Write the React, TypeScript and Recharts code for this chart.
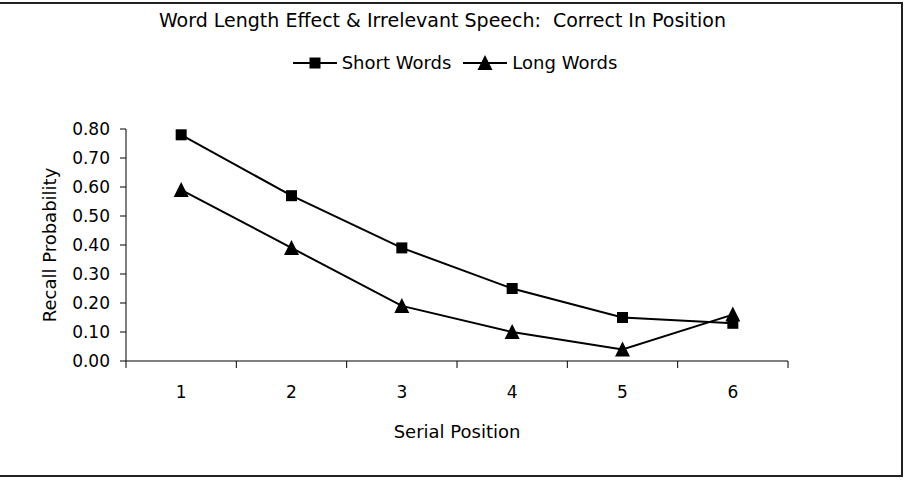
import React from 'react';
import { LineChart, Line, XAxis, YAxis } from 'recharts';

const positions = [1, 2, 3, 4, 5, 6];
const shortWords = [0.78, 0.57, 0.39, 0.25, 0.15, 0.13];
const longWords = [0.59, 0.39, 0.19, 0.1, 0.04, 0.16];
const yTicks = [0, 0.1, 0.2, 0.3, 0.4, 0.5, 0.6, 0.7, 0.8];
// tick marks sit between categories, labels at the categories
const xBounds = [0.5, 1.5, 2.5, 3.5, 4.5, 5.5, 6.5];

const data = positions.map((p, i) => ({
  pos: p,
  short: shortWords[i],
  long: longWords[i],
}));

const FONT = '"DejaVu Sans", sans-serif';

const SquareDot = (props: any) => {
  const { cx, cy } = props;
  if (cx == null || cy == null) return null;
  return <rect x={cx - 5.5} y={cy - 5.5} width={11} height={11} fill="#000" />;
};

const TriangleDot = (props: any) => {
  const { cx, cy } = props;
  if (cx == null || cy == null) return null;
  return (
    <polygon
      points={`${cx},${cy - 8} ${cx + 7.5},${cy + 7} ${cx - 7.5},${cy + 7}`}
      fill="#000"
    />
  );
};

const legendItems = [
  { name: 'Short Words', marker: 'square' },
  { name: 'Long Words', marker: 'triangle' },
];

const LegendBox = () => (
  <div
    style={{
      position: 'absolute',
      top: 52,
      left: 0,
      width: 910,
      display: 'flex',
      justifyContent: 'center',
      alignItems: 'center',
      fontFamily: FONT,
      fontSize: 18,
      color: '#000',
    }}
  >
    {legendItems.map((item) => (
      <div
        key={item.name}
        style={{ display: 'flex', alignItems: 'center', margin: '0 6px' }}
      >
        <svg width={44} height={18}>
          <line x1={0} y1={9} x2={44} y2={9} stroke="#000" strokeWidth={2} />
          {item.marker === 'square' ? (
            <SquareDot cx={22} cy={9} />
          ) : (
            <TriangleDot cx={22} cy={9} />
          )}
        </svg>
        <span style={{ marginLeft: 5 }}>{item.name}</span>
      </div>
    ))}
  </div>
);

const YLabel = (props: any) => {
  const { viewBox } = props;
  const x = viewBox.x + 49;
  const y = viewBox.y + viewBox.height / 2;
  return (
    <text
      x={x}
      y={y}
      transform={`rotate(-90, ${x}, ${y})`}
      textAnchor="middle"
      dominantBaseline="central"
      fontFamily={FONT}
      fontSize={18}
      fill="#000"
    >
      Recall Probability
    </text>
  );
};

const XLabel = (props: any) => {
  const { viewBox } = props;
  const x = viewBox.x + viewBox.width / 2;
  const y = viewBox.y + 69;
  return (
    <text
      x={x}
      y={y}
      textAnchor="middle"
      dominantBaseline="central"
      fontFamily={FONT}
      fontSize={18}
      fill="#000"
    >
      Serial Position
    </text>
  );
};

export default function App() {
  return (
    <div
      style={{
        position: 'absolute',
        left: 0,
        top: 0,
        width: 904,
        height: 486,
        background: '#fff',
        overflow: 'hidden',
      }}
    >
      <div
        style={{
          position: 'absolute',
          left: -10,
          top: 2,
          width: 913,
          height: 475,
          border: '2px solid #222',
          boxSizing: 'border-box',
        }}
      />
      <div
        style={{
          position: 'absolute',
          top: 9,
          left: 0,
          width: 885,
          textAlign: 'center',
          fontFamily: FONT,
          fontSize: 19,
          color: '#000',
        }}
      >
        Word Length Effect &amp; Irrelevant Speech:&nbsp; Correct In Position
      </div>
      <LegendBox />
      <LineChart
        width={904}
        height={486}
        data={data}
        margin={{ top: 129, right: 116, bottom: 0, left: 0 }}
        style={{ position: 'absolute', left: 0, top: 0 }}
      >
        <XAxis
          xAxisId="bounds"
          dataKey="pos"
          type="number"
          domain={[0.5, 6.5]}
          ticks={xBounds}
          tickFormatter={() => ''}
          tickSize={7}
          height={1}
          stroke="#000"
        />
        <XAxis
          xAxisId="vals"
          dataKey="pos"
          type="number"
          domain={[0.5, 6.5]}
          ticks={positions}
          axisLine={false}
          tickLine={false}
          tickSize={0}
          tickMargin={24}
          height={124}
          tick={{ fontFamily: FONT, fontSize: 17, fill: '#000' }}
          label={<XLabel />}
        />
        <YAxis
          domain={[0, 0.8]}
          ticks={yTicks}
          width={126}
          tickSize={6}
          tickMargin={10}
          stroke="#000"
          tickFormatter={(v: number) => v.toFixed(2)}
          tick={{ fontFamily: FONT, fontSize: 17, fill: '#000' }}
          label={<YLabel />}
        />
        <Line
          xAxisId="vals"
          dataKey="short"
          name="Short Words"
          stroke="#000"
          strokeWidth={2}
          dot={<SquareDot />}
          activeDot={false}
          isAnimationActive={false}
        />
        <Line
          xAxisId="vals"
          dataKey="long"
          name="Long Words"
          stroke="#000"
          strokeWidth={2}
          dot={<TriangleDot />}
          activeDot={false}
          isAnimationActive={false}
        />
      </LineChart>
    </div>
  );
}
